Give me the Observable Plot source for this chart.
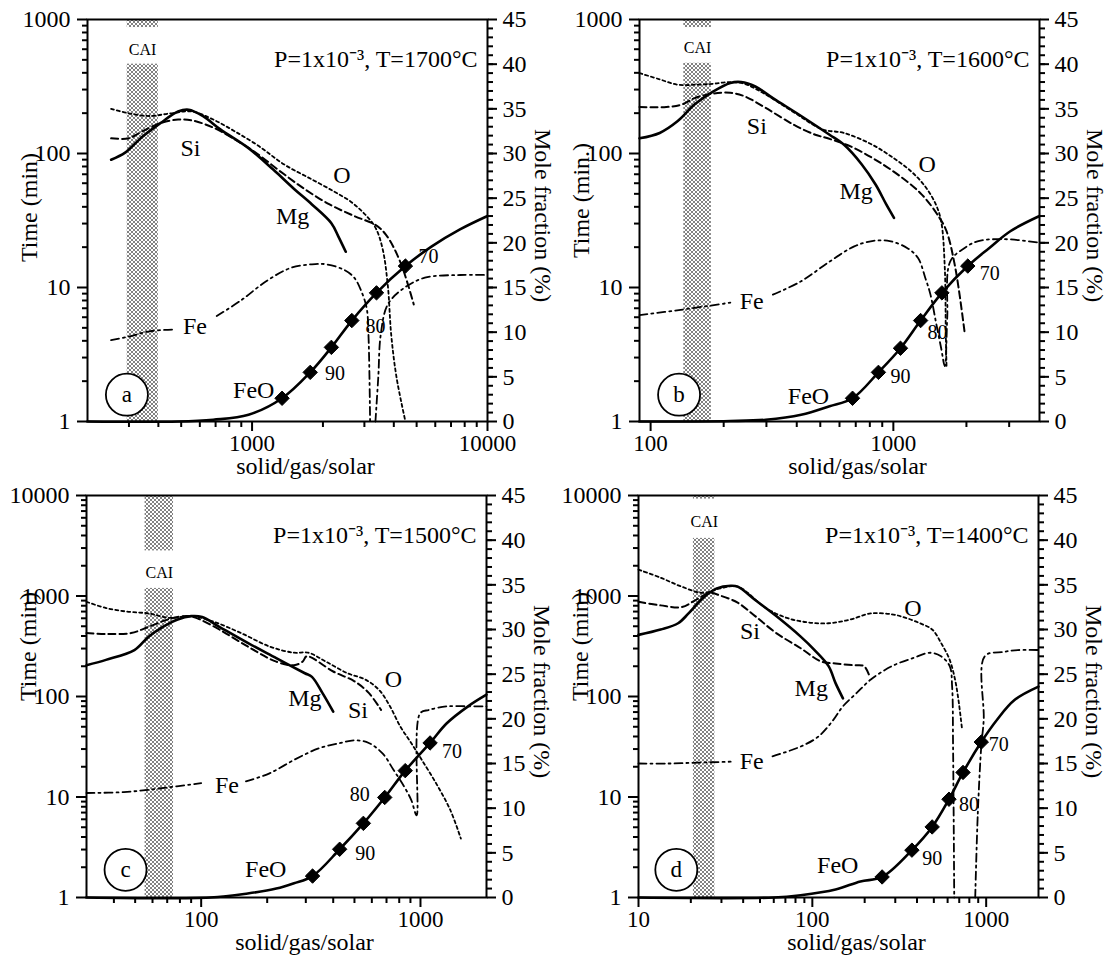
<!DOCTYPE html>
<html><head><meta charset="utf-8">
<script src="https://cdn.jsdelivr.net/npm/d3@7"></script>
<script src="https://cdn.jsdelivr.net/npm/@observablehq/plot@0.6"></script>
<style>
body{margin:0;background:#fff;}
#wrap{position:relative;width:1108px;height:958px;overflow:hidden;background:#fff;}
#wrap svg{position:absolute;overflow:visible;background:transparent;}
</style></head><body><div id="wrap"></div>
<script>
// ---------- Panel a : T=1700°C ----------
const aFeO = [[200,0],[485,0],[684,0.2],[966,0.75],[1341,2.6],[1766,5.5],[2172,8.3],[2653,11.3],[3377,14.4],[4481,17.4],[5800,19.6],[7640,21.5],[10000,23.0]];
const aDia = [[1341,2.6],[1766,5.5],[2172,8.3],[2653,11.3],[3377,14.4],[4481,17.4]];
const aMg = [[252,29.3],[289,30.1],[343,31.9],[408,33.4],[485,34.7],[538,34.9],[617,34.2],[733,32.7],[966,30.6],[1230,28.2],[1513,26.0],[1796,24.3],[2172,22.2],[2327,20.7],[2500,19.0]];
const aSi = [[252,31.7],[299,31.7],[343,32.5],[408,33.4],[485,33.8],[557,33.7],[684,32.9],[842,31.6],[1035,30.1],[1317,28.0],[1676,26.0],[2134,24.3],[2716,23.0],[3342,22.0],[3707,20.9],[4256,17.9],[4862,13.1]];
const aO = [[252,35.0],[299,34.5],[368,34.2],[452,34.5],[557,34.7],[684,33.8],[842,32.5],[1072,30.8],[1363,28.8],[1737,27.3],[2210,25.8],[2626,24.6],[3015,23.2],[3342,21.7],[3580,19.4],[3770,15.3],[3900,9.7],[4110,4.9],[4481,0]];
const aFe = [[252,9.1],[299,9.5],[368,10.1],[469,10.3],[NaN,NaN],[708,11.8],[902,13.6],[1148,15.7],[1462,17.2],[1796,17.6],[2061,17.6],[2449,17.0],[2716,16.1],[2910,14.6],[3067,12.7],[3122,9.7],[3172,0],[NaN,NaN],[3342,0],[3437,5.0],[3519,9.7],[3770,13.1],[4400,14.9],[5420,16.1],[7640,16.4],[10000,16.4]];
const aNames = [["Si",547,30.6],["O",2410,27.6],["Mg",1486,23.0],["Fe",572,10.6],["FeO",1017,3.5]];
const aNums = [["90",2249,5.4],["80",3342,10.6],["70",5610,18.5]];
const aCAI = [295,400];
const aCAIBand = [40.0,44.1];
const aCAILabel = [343,41.6];
const aCircle = [294,3.0];
const aXTicks = [1000,10000];

// ---------- Panel b : T=1600°C ----------
const bFeO = [[90,0],[152,0],[213,0.05],[298,0.2],[417,0.75],[546,1.7],[679,2.6],[868,5.5],[1070,8.2],[1295,11.3],[1585,14.4],[2026,17.4],[2479,19.4],[3033,21.3],[4000,23.0]];
const bDia = [[679,2.6],[868,5.5],[1070,8.2],[1295,11.3],[1585,14.4],[2026,17.4]];
const bMg = [[90,31.7],[109,32.3],[129,33.6],[152,35.5],[180,36.9],[213,37.9],[236,38.0],[270,37.5],[319,36.2],[417,34.2],[546,32.1],[625,31.0],[740,28.8],[846,26.5],[935,24.3],[1006,22.8]];
const bSi = [[90,35.2],[116,35.2],[135,35.5],[152,36.2],[180,36.7],[213,36.8],[244,36.4],[298,35.1],[390,33.2],[477,32.1],[537,31.7],[690,30.6],[1000,28.0],[1310,25.4],[1549,22.8],[1656,21.3],[1800,17.2],[1972,9.7]];
const bO = [[90,39.0],[109,38.3],[129,37.7],[152,37.7],[180,37.8],[213,38.0],[244,37.8],[298,36.6],[390,34.6],[510,32.7],[625,32.3],[817,31.0],[1000,29.5],[1183,28.0],[1353,26.3],[1496,24.3],[1574,22.4],[1629,17.2],[1645,9.7],[1656,6.2]];
const bFe = [[90,11.9],[133,12.5],[213,13.3],[NaN,NaN],[319,14.2],[417,15.7],[546,17.9],[690,19.6],[817,20.2],[966,20.2],[1143,19.4],[1264,18.3],[1353,16.1],[1422,14.2],[1496,11.2],[1574,8.2],[1629,6.2],[1667,11.6],[1714,17.9],[1959,19.4],[2240,20.2],[2929,20.4],[4000,20.0]];
const bNames = [["Si",274,33.0],["O",1377,28.8],["Mg",703,25.8],["Fe",261,13.4],["FeO",447,2.8]];
const bNums = [["90",1070,5.0],["80",1520,9.9],["70",2495,16.6]];
const bCAI = [137,178];
const bCAIBand = [40.1,44.1];
const bCAILabel = [156,41.8];
const bCircle = [131,3.0];
const bXTicks = [100,1000];

// ---------- Panel c : T=1500°C ----------
const cFeO = [[30,0],[110,0],[163,0.45],[220,1.0],[265,1.6],[322,2.4],[428,5.4],[549,8.3],[687,11.2],[852,14.2],[1106,17.3],[1318,19.5],[1648,21.4],[2000,22.7]];
const cDia = [[322,2.4],[428,5.4],[549,8.3],[687,11.2],[852,14.2],[1106,17.3]];
const cMg = [[30,26.0],[36.8,26.6],[49.6,27.7],[57.6,29.2],[66.9,30.3],[77.6,31.1],[90,31.5],[101,31.4],[121,30.3],[163,28.5],[220,26.8],[297,25.1],[320,24.7],[357,22.9],[400,20.8]];
const cSi = [[30,29.6],[36.8,29.5],[47.9,29.6],[57.6,30.3],[72.1,31.2],[86.9,31.5],[97,31.2],[121,30.0],[163,28.1],[220,26.4],[265,26.0],[290,26.4],[303,27.0],[400,25.3],[500,24.2],[581,22.9],[661,21.0]];
const cO = [[30,33.1],[36.8,32.4],[46,32.0],[57.6,31.8],[72,31.3],[90,31.5],[113,30.9],[152,29.6],[205,28.1],[265,27.4],[308,27.4],[371,26.4],[465,25.1],[560,24.4],[649,23.2],[726,21.4],[811,19.1],[907,17.3],[1014,15.4],[1177,12.8],[1367,9.8],[1528,6.6]];
const cFe = [[30,11.7],[44.4,11.8],[64.4,12.2],[100,12.8],[NaN,NaN],[160,13.0],[205,13.9],[265,15.4],[344,16.7],[431,17.3],[500,17.6],[581,17.3],[673,16.1],[753,14.3],[843,12.4],[908,10.9],[960,9.2],[995,20.6],[1094,21.0],[1318,21.4],[1648,21.4],[2000,21.4]];
const cNames = [["Mg",297,22.3],["Si",519,21.0],["O",753,24.4],["Fe",131,12.6],["FeO",197,3.1]];
const cNums = [["90",560,4.9],["80",529,11.5],["70",1393,16.3]];
const cCAI = [55.5,74.8];
const cCAIBand = [34.6,38.8];
const cCAILabel = [64.4,36.3];
const cCircle = [45.2,3.1];
const cXTicks = [100,1000];

// ---------- Panel d : T=1400°C ----------
const dFeO = [[10,0],[60,0],[85.7,0.26],[136,0.9],[189,1.8],[252,2.3],[374,5.3],[489,7.9],[611,11.0],[736,14.0],[937,17.4],[1155,19.9],[1455,22.1],[2000,23.6]];
const dDia = [[252,2.3],[374,5.3],[489,7.9],[611,11.0],[736,14.0],[937,17.4]];
const dMg = [[10,29.4],[13.4,30.0],[16.9,30.7],[19.4,31.8],[23.4,33.5],[28.2,34.6],[33.9,34.9],[37.2,34.8],[46.9,33.3],[62,31.5],[85.7,29.2],[103,27.7],[124,25.9],[136,24.0],[150,22.3]];
const dSi = [[10,33.1],[13.4,32.7],[17.7,32.5],[21.3,33.3],[25.7,34.1],[29.5,33.8],[37.2,33.0],[46.9,31.5],[62,29.6],[85.7,27.9],[113,26.4],[136,26.2],[172,26.0],[198,25.9],[212,24.9]];
const dO = [[10,36.7],[13.4,35.8],[17.7,34.8],[23.4,34.1],[29.5,34.6],[37.2,34.8],[54,32.4],[71.3,31.3],[94,30.8],[124,30.7],[164,31.1],[217,31.8],[287,31.7],[345,31.3],[416,30.7],[489,30.0],[550,28.5],[617,26.6],[662,24.4],[693,22.1],[726,18.9]];
const dFe = [[10,15.0],[15,15.0],[22,15.1],[33.9,15.2],[NaN,NaN],[59,15.8],[85.7,16.9],[108,18.0],[130,19.7],[150,21.4],[180,22.9],[217,24.4],[287,25.9],[379,26.8],[478,27.4],[550,27.0],[617,25.9],[637,23.6],[645,16.9],[655,0],[NaN,NaN],[865,0],[895,9.4],[937,16.9],[968,19.9],[981,27.0],[1268,27.5],[1524,27.7],[2000,27.7]];
const dNames = [["Mg",98.6,23.4],["Si",43.8,29.8],["O",379,32.4],["Fe",44.8,15.2],["FeO",140,3.6]];
const dNums = [["90",489,4.4],["80",796,10.4],["70",1183,17.1]];
const dCAI = [20.7,27.5];
const dCAIBand = [40.2,44.6];
const dCAILabel = [23.9,42.1];
const dCircle = [16.5,3.1];
const dXTicks = [10,100,1000];

const FONT = "'Liberation Serif','Times New Roman',Times,serif";
const STIPPLE = "#010203";

const panels = [
  {id:"a", left:1, top:1, xDomain:[200,10000], tMax:1000, tTicks:[1,10,100,1000], xTicks:aXTicks, tLabel:"Time (min)", tDy:-13, title:"P=1x10\u207B\u00B3, T=1700\u00B0C",
   FeO:aFeO, Dia:aDia, Mg:aMg, Si:aSi, O:aO, Fe:aFe, names:aNames, nums:aNums, cai:aCAI, caiBand:aCAIBand, caiLabel:aCAILabel, circle:aCircle},
  {id:"b", left:553, top:1, xDomain:[90,4000], tMax:1000, tTicks:[1,10,100,1000], xTicks:bXTicks, tLabel:"Time (min.)", tDy:-20, title:"P=1x10\u207B\u00B3, T=1600\u00B0C",
   FeO:bFeO, Dia:bDia, Mg:bMg, Si:bSi, O:bO, Fe:bFe, names:bNames, nums:bNums, cai:bCAI, caiBand:bCAIBand, caiLabel:bCAILabel, circle:bCircle},
  {id:"c", left:0, top:477, xDomain:[30,2000], tMax:10000, tTicks:[1,10,100,1000,10000], xTicks:cXTicks, tLabel:"Time (min)", tDy:-50, title:"P=1x10\u207B\u00B3, T=1500\u00B0C",
   FeO:cFeO, Dia:cDia, Mg:cMg, Si:cSi, O:cO, Fe:cFe, names:cNames, nums:cNums, cai:cCAI, caiBand:cCAIBand, caiLabel:cCAILabel, circle:cCircle},
  {id:"d", left:552, top:477, xDomain:[10,2000], tMax:10000, tTicks:[1,10,100,1000,10000], xTicks:dXTicks, tLabel:"Time (min)", tDy:-50, title:"P=1x10\u207B\u00B3, T=1400\u00B0C",
   FeO:dFeO, Dia:dDia, Mg:dMg, Si:dSi, O:dO, Fe:dFe, names:dNames, nums:dNums, cai:dCAI, caiBand:dCAIBand, caiLabel:dCAILabel, circle:dCircle}
];

function minorTicks(lo, hi) {
  const t = [];
  for (let e = Math.floor(Math.log10(lo)); e <= Math.ceil(Math.log10(hi)); e++)
    for (let k = 2; k <= 9; k++) { const v = k * 10 ** e; if (v > lo * 1.001 && v < hi * 0.999) t.push(v); }
  return t;
}
const X = d => d[0], Y = d => d[1];
const wrap = document.getElementById("wrap");

for (const p of panels) {
  const base = {width:554, height:479, marginLeft:86, marginRight:68, marginTop:18, marginBottom:59,
    style:{fontFamily:FONT, fontSize:"24px", background:"transparent", overflow:"visible", color:"black"}};
  const xs = {type:"log", domain:p.xDomain, axis:null};

  // Time (log) layer: left axis only
  const tPlot = Plot.plot({...base, x:xs, y:{type:"log", domain:[1, p.tMax], axis:null}, marks:[
    Plot.axisY(minorTicks(1, p.tMax), {anchor:"left", tickSize:5, tickFormat:() => "", label:null, strokeWidth:2}),
    Plot.axisY(p.tTicks, {anchor:"left", tickSize:10, tickPadding:7, tickFormat:d => String(d), label:null, strokeWidth:2, fontSize:24}),
    Plot.text([p.tLabel], {text:d => d, frameAnchor:"left", textAnchor:"middle", rotate:-90, dx:-58, dy:p.tDy, fontSize:24})
  ]});

  // Mole-fraction (linear) layer
  const fPlot = Plot.plot({...base, x:xs, y:{domain:[0,45], axis:null}, marks:[
    Plot.rect([p.cai], {x1:d => d[0], x2:d => d[1], y1:() => 0, y2:() => p.caiBand[0], fill:STIPPLE}),
    Plot.rect([p.cai], {x1:d => d[0], x2:d => d[1], y1:() => p.caiBand[1], y2:() => 45, fill:STIPPLE}),
    Plot.text([p.caiLabel], {x:X, y:Y, text:() => "CAI", fontSize:16}),
    Plot.line(p.Fe, {x:X, y:Y, stroke:"black", strokeWidth:1.8, strokeDasharray:"8,4,2,4", curve:"catmull-rom"}),
    Plot.line(p.O, {x:X, y:Y, stroke:"black", strokeWidth:1.8, strokeDasharray:"3,3", curve:"catmull-rom"}),
    Plot.line(p.Si, {x:X, y:Y, stroke:"black", strokeWidth:2, strokeDasharray:"7,4", curve:"catmull-rom"}),
    Plot.line(p.Mg, {x:X, y:Y, stroke:"black", strokeWidth:2.6, curve:"catmull-rom"}),
    Plot.line(p.FeO, {x:X, y:Y, stroke:"black", strokeWidth:2.6, curve:"catmull-rom"}),
    Plot.dot(p.Dia, {x:X, y:Y, symbol:"diamond2", r:6.5, fill:"black", stroke:"black", strokeWidth:1}),
    Plot.text(p.names, {x:d => d[1], y:d => d[2], text:d => d[0], fontSize:24}),
    Plot.text(p.nums, {x:d => d[1], y:d => d[2], text:d => d[0], fontSize:20}),
    Plot.dot([p.circle], {x:X, y:Y, r:21, fill:"white", stroke:"black", strokeWidth:1.8}),
    Plot.text([p.circle], {x:X, y:Y, text:() => p.id, fontSize:23}),
    Plot.text([p.title], {text:d => d, frameAnchor:"top-right", textAnchor:"end", dx:-10, dy:30, fontSize:24}),
    Plot.axisY(d3.range(1, 45), {anchor:"right", tickSize:5, tickFormat:() => "", label:null, strokeWidth:2}),
    Plot.axisY(d3.range(0, 46, 5), {anchor:"right", tickSize:9, tickPadding:6, tickFormat:d => String(d), label:null, strokeWidth:2, fontSize:24}),
    Plot.axisX(minorTicks(p.xDomain[0], p.xDomain[1]), {anchor:"bottom", tickSize:6, tickFormat:() => "", label:null, strokeWidth:2}),
    Plot.axisX(p.xTicks, {anchor:"bottom", tickSize:10, tickPadding:3, tickFormat:d => String(d), label:null, strokeWidth:2, fontSize:23}),
    Plot.text(["Mole fraction (%)"], {text:d => d, frameAnchor:"right", textAnchor:"middle", rotate:90, dx:55, dy:-5, fontSize:24}),
    Plot.text(["solid/gas/solar"], {text:d => d, frameAnchor:"bottom", dx:18, dy:52, fontSize:24}),
    Plot.frame({stroke:"black", strokeWidth:2})
  ]});

  // stipple pattern for the CAI band
  const svg = d3.select(fPlot);
  const pat = svg.insert("defs", ":first-child").append("pattern")
    .attr("id", "dots-" + p.id).attr("width", 4).attr("height", 4).attr("patternUnits", "userSpaceOnUse");
  pat.append("rect").attr("x", 0.3).attr("y", 0.3).attr("width", 1.4).attr("height", 1.4).attr("fill", "black");
  pat.append("rect").attr("x", 2.3).attr("y", 2.3).attr("width", 1.4).attr("height", 1.4).attr("fill", "black");
  svg.selectAll("[fill]").filter(function() { return (this.getAttribute("fill") || "").toLowerCase() === STIPPLE; })
    .attr("fill", `url(#dots-${p.id})`);

  for (const s of [tPlot, fPlot]) { s.style.left = p.left + "px"; s.style.top = p.top + "px"; wrap.appendChild(s); }
}
</script></body></html>
